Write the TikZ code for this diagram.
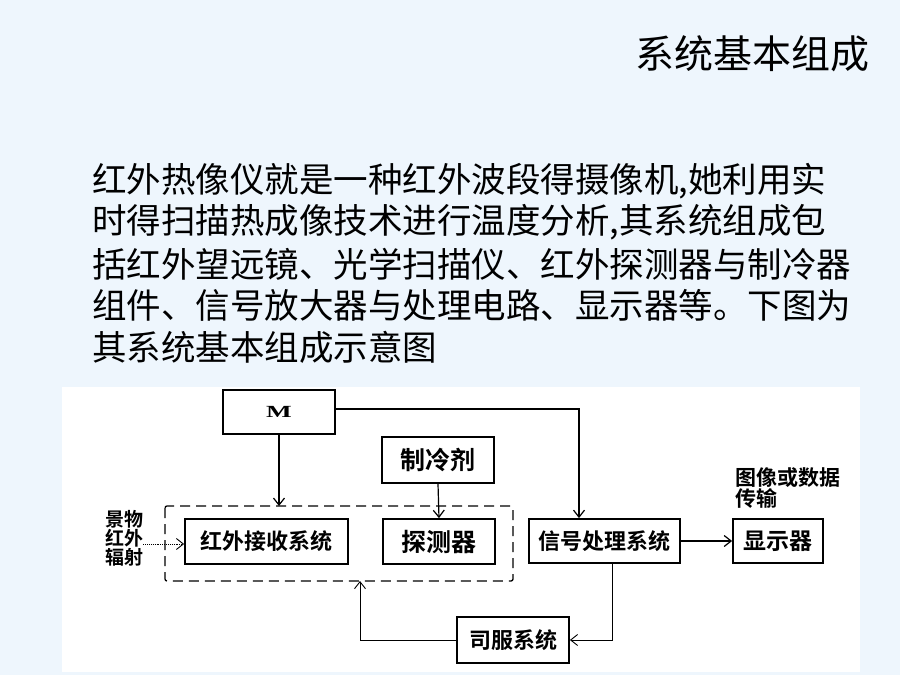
\documentclass[tikz,border=0pt]{standalone}
\usepackage{fontspec}
\setmainfont{Noto Sans CJK SC}[BoldFont={Noto Sans CJK SC Bold}]
\newfontfamily\serifM{Liberation Serif}
\usetikzlibrary{arrows,arrows.meta,positioning,calc}
\definecolor{slide}{HTML}{EEF6FD}

\begin{document}
\begin{tikzpicture}[x=1pt,y=-1pt,>={Straight Barb[length=7pt,width=11pt]},
	blk/.style={draw,line width=1.8pt,inner sep=0pt,font=\fontsize{22}{22}\selectfont\bfseries},
	txt/.style={anchor=west,inner sep=0pt,font=\fontsize{34.5}{34.5}\selectfont},
	link/.style={->,line width=1.2pt},
	thinlink/.style={->,line width=0.9pt}]
	\useasboundingbox[fill=slide] (0,0) rectangle (900,675);
	\fill[white] (62,387) rectangle (860,672);
	\node[anchor=west,inner sep=0pt,font=\fontsize{39}{39}\selectfont] (title) at (635,54) {系统基本组成};
	\node[txt] (l1) at (92,181) {红外热像仪就是一种红外波段得摄像机,她利用实};
	\node[txt] (l2) at (92,222.5) {时得扫描热成像技术进行温度分析,其系统组成包};
	\node[txt] (l3) at (92,264) {括红外望远镜、光学扫描仪、红外探测器与制冷器};
	\node[txt] (l4) at (92,305.5) {组件、信号放大器与处理电路、显示器等。下图为};
	\node[txt] (l5) at (92,347) {其系统基本组成示意图};
	\draw[line width=1.3pt,dash pattern=on 10pt off 6pt,rounded corners=2pt] (165,506) rectangle (513,581);
	\coordinate (frameN) at (339,506);
	\coordinate (frameS) at (360,581);
	\node[blk,minimum width=112,minimum height=44,font=\fontsize{17}{17}\serifM\bfseries] (M) at (279,412) {\scalebox{1.6}[1]{M}};
	\node[blk,minimum width=112,minimum height=46,font=\fontsize{25}{25}\selectfont\bfseries] (cool) at (438,460) {制冷剂};
	\node[blk,minimum width=163,minimum height=45] (recv) at (266.5,541.5) {红外接收系统};
	\node[blk,minimum width=112,minimum height=45,font=\fontsize{25}{25}\selectfont\bfseries] (det) at (439,541.5) {探测器};
	\node[blk,minimum width=151,minimum height=44] (sig) at (604.5,541) {信号处理系统};
	\node[blk,minimum width=90,minimum height=44,font=\fontsize{23}{23}\selectfont\bfseries] (disp) at (778,541) {显示器};
	\node[blk,minimum width=112,minimum height=46] (servo) at (513,640) {司服系统};
	\node[align=center,inner sep=0pt,font=\fontsize{19}{16.5}\selectfont\bfseries] (scene) at (124,538) {景物\\红外\\辐射};
	\node[align=left,inner sep=0pt,font=\fontsize{21}{14}\selectfont\bfseries,anchor=south west] (out) at (735,509) {图像或数据\\传输};
	\coordinate (mk) at (579,409);
	\draw[link] (M.south) -- (M.south |- frameN);
	\draw[link] (M.east |- mk) -- (mk) -- (mk |- sig.north);
	\draw[link] (cool.south) -- (det.north);
	\draw[thinlink,densely dotted] (scene.east |- 0,544) -- (recv.west |- 0,544);
	\draw[link] (sig.east) -- (disp.west);
	\draw[thinlink] ([xshift=8pt]sig.south) |- (servo.east);
	\draw[thinlink] (servo.west) -| (frameS);
\end{tikzpicture}
\end{document}
